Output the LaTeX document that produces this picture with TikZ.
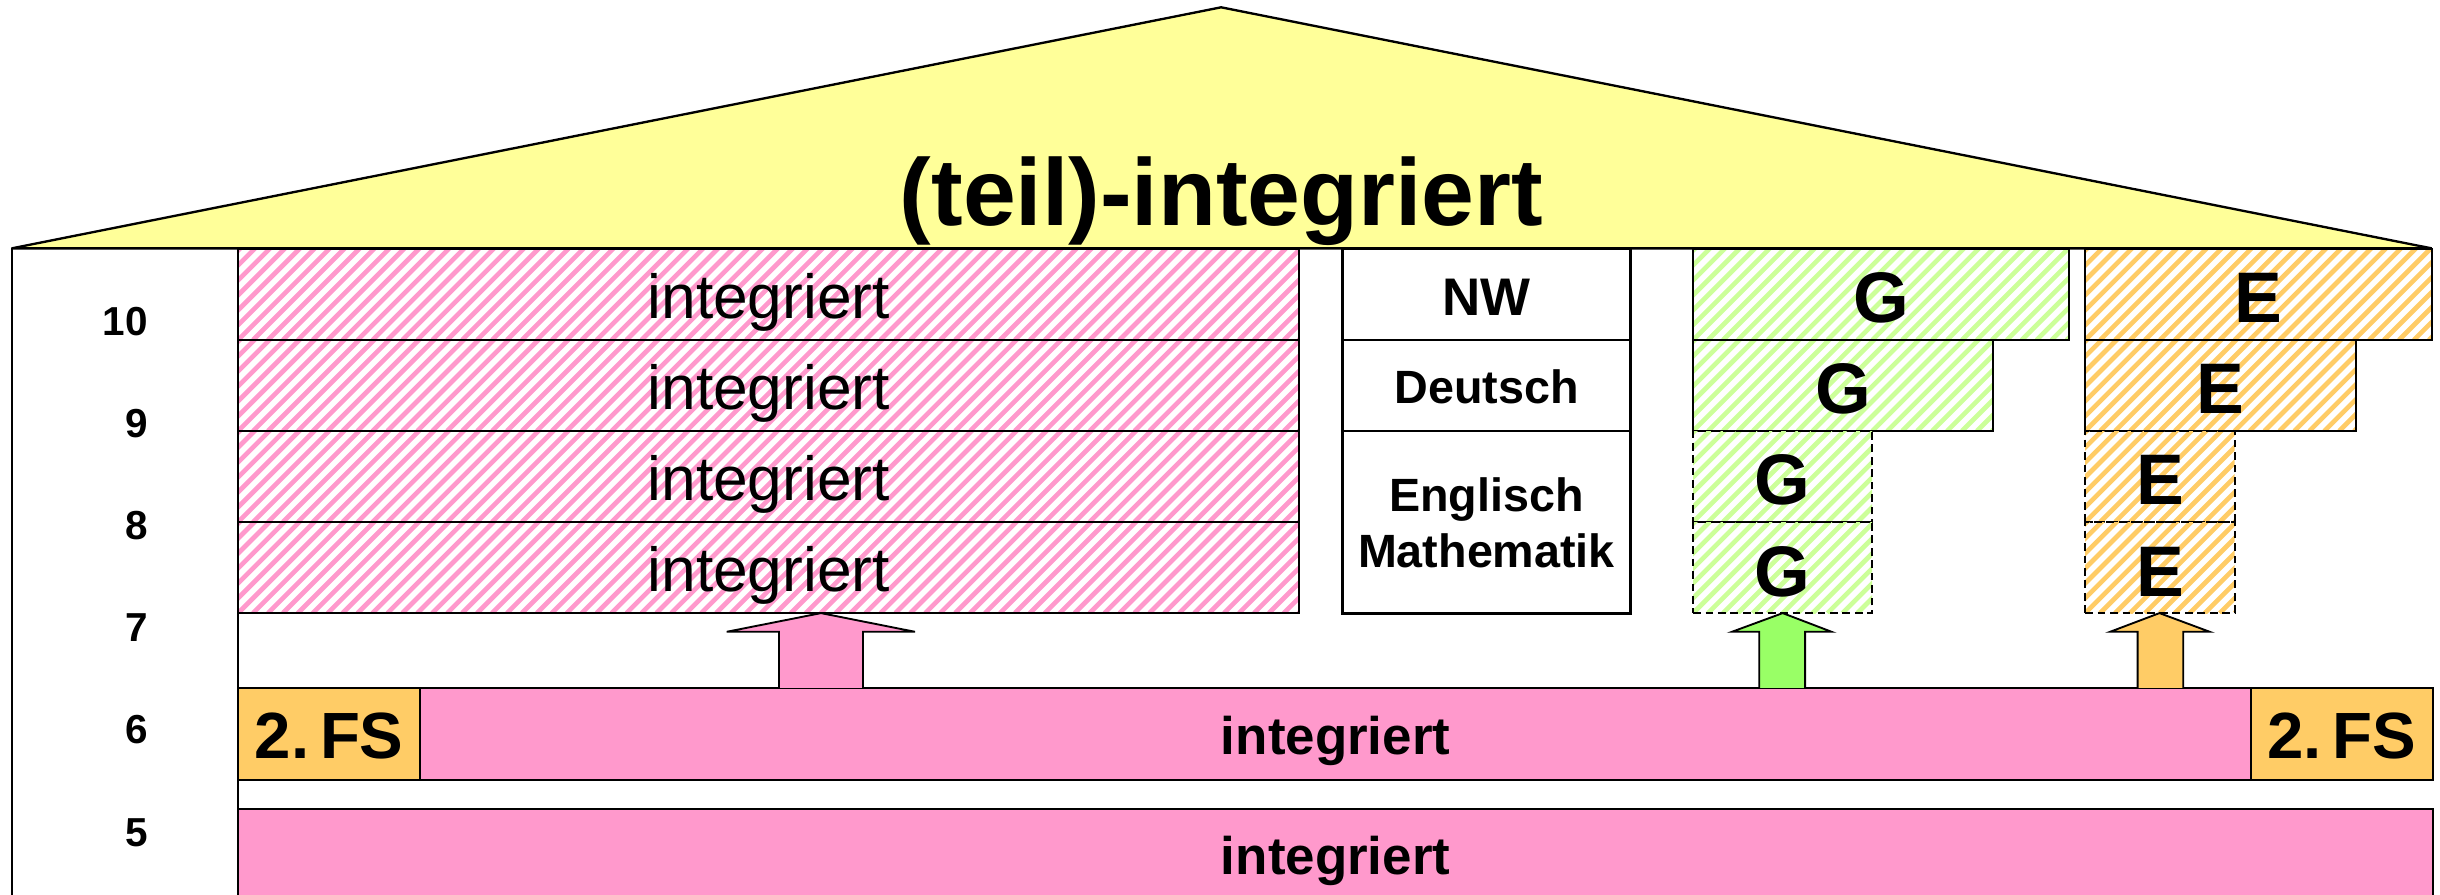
\documentclass[tikz,border=0pt]{standalone}
\usepackage{fontspec}
\setmainfont{Liberation Sans}

\definecolor{dachgelb}{HTML}{FFFF99}
\definecolor{rosa}{HTML}{FF99CC}
\definecolor{hellgruen}{HTML}{CCFF99}
\definecolor{pfeilgruen}{HTML}{99FF66}
\definecolor{fsorange}{HTML}{FFCC66}

\tikzset{
  cell/.style={draw, line width=1.2pt, inner sep=0pt, outer sep=0pt},
  % diagonal stripes drawn inside the cell, clipped to it
  stripes/.style={path picture={
      \foreach \k in {-8,...,75}
        \draw[#1, solid, line width=3pt]
          ([xshift=\k*9.6pt]path picture bounding box.south west) -- ++(62pt,62pt);
    }},
  hatchrosa/.style={cell, stripes=rosa},
  hatchgruen/.style={cell, stripes=hellgruen},
  hatchorange/.style={cell, stripes=fsorange},
  kursbox/.style={cell, dash pattern=on 5pt off 3pt},
  fachbox/.style={draw, line width=1.8pt, fill=white, inner sep=0pt, outer sep=0pt},
  balken/.style={cell, fill=rosa},
  fsbox/.style={cell, fill=fsorange},
  blockpfeil/.style={draw, line width=1.2pt, line join=miter},
  txt/.style={inner sep=0pt, outer sep=0pt, anchor=base},
  titel/.style={txt, font=\fontsize{61}{61}\selectfont\bfseries},
  stufe/.style={txt, anchor=base east, font=\fontsize{26}{26}\selectfont\bfseries},
  fach/.style={txt, font=\fontsize{30}{30}\selectfont\bfseries},
  gross/.style={txt, font=\fontsize{46}{46}\selectfont\bfseries},
  fslabel/.style={txt, font=\fontsize{42}{42}\selectfont\bfseries},
  intbold/.style={txt, font=\fontsize{34}{34}\selectfont\bfseries},
  intreg/.style={txt, font=\fontsize{40}{40}\selectfont},
}

\begin{document}
\begin{tikzpicture}[x=1pt, y=-1pt]
\useasboundingbox (0,0) rectangle (1568,575);
\clip (0,0) rectangle (1568,575);

% roof
\coordinate (dl) at (7.5,159.6);
\coordinate (df) at (784.7,4.7);
\coordinate (dr) at (1562.6,159.6);
\filldraw[fill=dachgelb, line width=1.5pt, line join=miter] (dl) -- (df) -- (dr) -- cycle;
\node[titel] (titel) at (785,144.6) {(teil)-integriert};

% building walls
\coordinate (wl) at (7.5,590);
\coordinate (ktop) at (153,159.6);
\coordinate (kbot) at (153,590);
\draw[line width=1.2pt] (dl) -- (wl);
\draw[line width=1.2pt] (ktop) -- (kbot);

% grade numbers
\node[stufe] (s10) at (95,215.3) {10};
\node[stufe] (s9)  at (95,281.0) {9};
\node[stufe] (s8)  at (95,346.7) {8};
\node[stufe] (s7)  at (95,412.4) {7};
\node[stufe] (s6)  at (95,478.1) {6};
\node[stufe] (s5)  at (95,543.8) {5};

% integrated classes, grades 7-10
\node[hatchrosa, minimum width=682pt, minimum height=58.5pt] (i10) at (494,189.25) {};
\node[hatchrosa, minimum width=682pt, minimum height=58.5pt] (i9)  at (494,247.75) {};
\node[hatchrosa, minimum width=682pt, minimum height=58.5pt] (i8)  at (494,306.25) {};
\node[hatchrosa, minimum width=682pt, minimum height=58.5pt] (i7)  at (494,364.75) {};
\node[intreg] (ti10) at (494,204.6) {integriert};
\node[intreg] (ti9)  at (494,263.1) {integriert};
\node[intreg] (ti8)  at (494,321.6) {integriert};
\node[intreg] (ti7)  at (494,380.1) {integriert};

% subjects taught in separate courses
\node[fachbox, minimum width=185.5pt, minimum height=58.5pt] (nw) at (955.25,189.25) {};
\node[fachbox, minimum width=185.5pt, minimum height=58.5pt] (de) at (955.25,247.75) {};
\node[fachbox, minimum width=185.5pt, minimum height=117pt]  (em) at (955.25,335.5) {};
\node[txt, font=\fontsize{34}{34}\selectfont\bfseries] (tnw) at (955.25,202.5) {NW};
\node[fach] (tde) at (955.25,259) {Deutsch};
\node[fach] (ten) at (955.25,329) {Englisch};
\node[fach] (tma) at (955.25,365) {Mathematik};

% basic level courses
\node[hatchgruen, minimum width=241.5pt, minimum height=58.5pt] (g10) at (1208.75,189.25) {};
\node[hatchgruen, minimum width=193pt,   minimum height=58.5pt] (g9)  at (1184.5,247.75) {};
\node[hatchgruen, kursbox, minimum width=115pt, minimum height=58.5pt] (g8) at (1145.5,306.25) {};
\node[hatchgruen, kursbox, minimum width=115pt, minimum height=58.5pt] (g7) at (1145.5,364.75) {};
\node[gross] (tg10) at (1208.75,207.5) {G};
\node[gross] (tg9)  at (1184.5,266) {G};
\node[gross] (tg8)  at (1145.5,324.5) {G};
\node[gross] (tg7)  at (1145.5,383) {G};

% extended level courses
\node[hatchorange, minimum width=222.6pt, minimum height=58.5pt] (e10) at (1451.3,189.25) {};
\node[hatchorange, minimum width=174pt,   minimum height=58.5pt] (e9)  at (1427,247.75) {};
\node[hatchorange, kursbox, minimum width=96pt, minimum height=58.5pt] (e8) at (1388,306.25) {};
\node[hatchorange, kursbox, minimum width=96pt, minimum height=58.5pt] (e7) at (1388,364.75) {};
\node[gross] (te10) at (1451.3,207.5) {E};
\node[gross] (te9)  at (1427,266) {E};
\node[gross] (te8)  at (1388,324.5) {E};
\node[gross] (te7)  at (1388,383) {E};

% grade 6
\node[fsbox, minimum width=117pt, minimum height=59pt] (fsl) at (211.5,471.5) {};
\node[balken, minimum width=1176.6pt, minimum height=59pt] (k6) at (858.3,471.5) {};
\node[fsbox, minimum width=117pt, minimum height=59pt] (fsr) at (1505,471.5) {};
\node[fslabel] (tfsl) at (211.5,487.5) {2.\,FS};
\node[fslabel] (tfsr) at (1505,487.5) {2.\,FS};
\node[intbold] (tk6) at (858.3,484.6) {integriert};

% grade 5
\node[balken, minimum width=1410.5pt, minimum height=80pt] (k5) at (858.25,560) {};
\node[intbold] (tk5) at (858.3,561.7) {integriert};

% transitions from grade 6 into the courses of grade 7
\filldraw[blockpfeil, fill=rosa]
  (500.6,442) -- (500.6,406) -- (467,406) -- (527.6,394) -- (588,406) -- (554.6,406) -- (554.6,442);
\filldraw[blockpfeil, fill=pfeilgruen]
  (1130.5,442) -- (1130.5,406) -- (1113,406) -- (1145.6,394) -- (1177,406) -- (1160,406) -- (1160,442);
\filldraw[blockpfeil, fill=fsorange]
  (1373.7,442) -- (1373.7,406) -- (1356,406) -- (1387.7,394) -- (1420,406) -- (1403,406) -- (1403,442);
\end{tikzpicture}
\end{document}
